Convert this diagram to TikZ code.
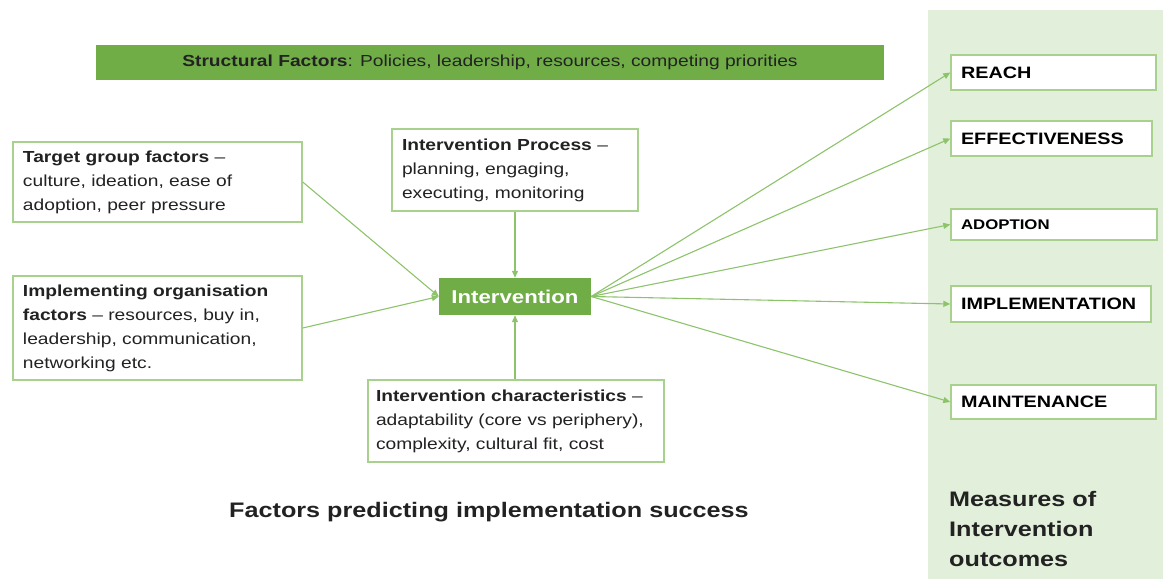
\documentclass[tikz,border=0pt]{standalone}
\usepackage{fontspec}
\setmainfont{Liberation Sans}[FakeStretch=1.2]
\usetikzlibrary{arrows.meta}
\definecolor{barg}{HTML}{70AD47}
\definecolor{panelg}{HTML}{E2EFDA}
\definecolor{boxline}{HTML}{A9D18E}
\definecolor{arrg}{HTML}{8CC36B}
\definecolor{txt}{HTML}{222222}
\begin{document}
\begin{tikzpicture}[x=1pt,y=-1pt,
  factor/.style={draw=boxline, line width=1.4pt, fill=white, text=txt, align=left,
    inner xsep=10pt, inner ysep=0pt, font=\fontsize{16}{24}\selectfont},
  outc/.style={draw=boxline, line width=1.4pt, fill=white, text=black, align=left,
    inner xsep=10pt, inner ysep=0pt, font=\bfseries\fontsize{16.5}{20}\selectfont},
  link/.style={draw=arrg, line width=1.1pt, -{Triangle[length=7pt,width=6pt]}}]
\useasboundingbox (0,0) rectangle (1163,579);
% right panel
\fill[panelg] (928,10) rectangle (1163,579);
% structural factors bar
\node[fill=barg, minimum width=788pt, minimum height=35pt, inner sep=0pt, text=txt,
  font=\fontsize{16}{20}\selectfont] (bar) at (490,62)
  {\textbf{Structural Factors}: Policies, leadership, resources, competing priorities};
% factor boxes
\node[factor, text width=269pt, minimum height=80pt] (tg) at (157.5,182)
  {\textbf{Target group factors} –\\culture, ideation, ease of\\adoption, peer pressure};
\node[factor, text width=269pt, minimum height=104pt] (io) at (157.5,328)
  {\textbf{Implementing organisation}\\\textbf{factors} – resources, buy in,\\leadership, communication,\\networking etc.};
\node[factor, text width=226pt, minimum height=82pt] (ip) at (515,170)
  {\textbf{Intervention Process} –\\planning, engaging,\\executing, monitoring};
\node[factor, text width=280pt, inner xsep=8pt, minimum height=82pt] (ic) at (516,421)
  {\textbf{Intervention characteristics} –\\adaptability (core vs periphery),\\complexity, cultural fit, cost};
% intervention
\node[fill=barg, text=white, minimum width=152pt, minimum height=37pt, inner sep=0pt,
  font=\bfseries\fontsize{18.5}{22}\selectfont] (int) at (515,296.5) {Intervention};
% outcome boxes
\node[outc, text width=185pt, minimum height=35pt] (reach) at (1053.5,72.5) {REACH};
\node[outc, text width=181pt, minimum height=35pt] (eff) at (1051.5,138.5) {EFFECTIVENESS};
\node[outc, text width=186pt, minimum height=31pt, font=\bfseries\fontsize{14}{18}\selectfont] (adopt) at (1054,224.5) {ADOPTION};
\node[outc, text width=180pt, minimum height=36pt] (impl) at (1051,304) {IMPLEMENTATION};
\node[outc, text width=185pt, minimum height=34pt] (maint) at (1053.5,402) {MAINTENANCE};
% captions
\node[text=txt, inner sep=0pt, font=\bfseries\fontsize{21}{25}\selectfont] (title) at (489,512)
  {Factors predicting implementation success};
\node[anchor=north west, align=left, inner sep=0pt, text=txt,
  font=\bfseries\fontsize{21}{30}\selectfont] (meas) at (949,491)
  {Measures of\\Intervention\\outcomes};
% connectors
\draw[link] (tg.east) -- (int.west);
\draw[link] (io.east) -- (int.west);
\draw[link] (ip.south) -- (int.north);
\draw[link] (int.south |- ic.north) -- (int.south);
\foreach \n in {reach,eff,adopt,impl,maint} \draw[link] (int.east) -- (\n.west);
\end{tikzpicture}
\end{document}
